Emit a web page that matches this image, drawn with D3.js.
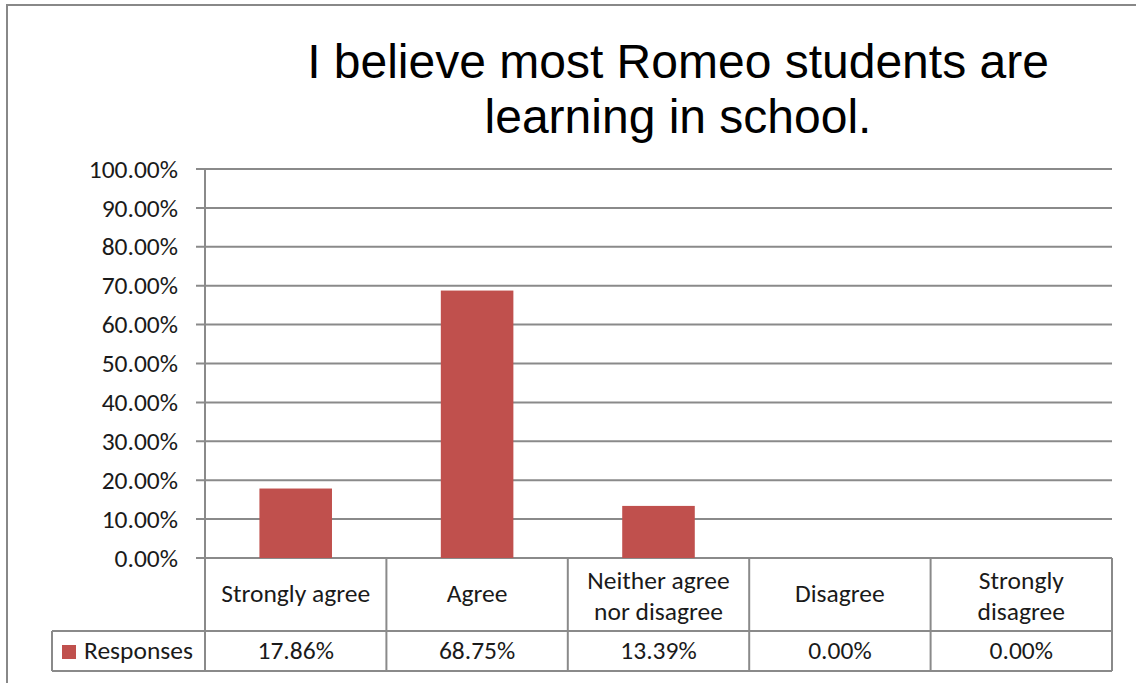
<!DOCTYPE html>
<html><head><meta charset="utf-8">
<script src="https://cdn.jsdelivr.net/npm/d3@7"></script>
<style>
html,body{margin:0;padding:0;background:#fff;}
svg{display:block;}
</style></head>
<body>
<svg id="chart" width="1136" height="683"></svg>
<script>
const titleLines = ["I believe most Romeo students are", "learning in school."];
const categories = [["Strongly agree"], ["Agree"], ["Neither agree", "nor disagree"], ["Disagree"], ["Strongly", "disagree"]];
const seriesName = "Responses";
const values = [17.86, 68.75, 13.39, 0.00, 0.00];
const yTicks = [0, 10, 20, 30, 40, 50, 60, 70, 80, 90, 100];

const svg = d3.select("#chart");
const gridColor = "#8a8a8a";
const barColor = "#C0504D";
const labelFont = "Carlito, 'Open Sans', sans-serif";
const labelSize = "25.5px";

// outer chart border
svg.append("rect").attr("x", 7).attr("y", 5).attr("width", 1140).attr("height", 700)
  .attr("fill", "none").attr("stroke", "#888").attr("stroke-width", 2);

const pLeft = 205, pRight = 1112, pTop = 169, pBottom = 558;
const x = d3.scaleBand().domain(d3.range(categories.length)).range([pLeft, pRight]).paddingInner(0.6).paddingOuter(0.3);
const xc = d3.scaleBand().domain(d3.range(categories.length)).range([pLeft, pRight]).padding(0);
const y = d3.scaleLinear().domain([0, 100]).range([pBottom, pTop]);

// title
svg.append("text").attr("x", 678).attr("y", 78).attr("text-anchor", "middle")
  .style("font-family", "'Liberation Sans', Arial, sans-serif").style("font-size", "48px").attr("fill", "#000")
  .selectAll("tspan").data(titleLines).join("tspan")
  .attr("x", 678).attr("dy", (d, i) => i === 0 ? 0 : 55).text(d => d);

// gridlines
const grid = svg.append("g");
grid.selectAll("line").data(yTicks).join("line")
  .attr("x1", pLeft - 9).attr("x2", pRight).attr("y1", d => y(d)).attr("y2", d => y(d))
  .attr("stroke", gridColor).attr("stroke-width", 2);

// y axis with labels
const yAxis = d3.axisLeft(y).tickValues(yTicks).tickSize(0).tickPadding(27)
  .tickFormat(d => d.toFixed(2) + "%");
const ga = svg.append("g").attr("transform", `translate(${pLeft},0)`).call(yAxis);
ga.select(".domain").remove();
ga.selectAll("text").style("font-family", labelFont).style("font-size", labelSize).attr("fill", "#1a1a1a");

// bars
svg.append("g").selectAll("rect").data(values).join("rect")
  .attr("x", (d, i) => x(i)).attr("width", x.bandwidth())
  .attr("y", d => y(d)).attr("height", d => y(0) - y(d))
  .attr("fill", barColor);

// vertical axis line
svg.append("line").attr("x1", pLeft).attr("x2", pLeft).attr("y1", pTop).attr("y2", 672)
  .attr("stroke", gridColor).attr("stroke-width", 2);

// data table
const rowMid = 631, tBottom = 671;
const tbl = svg.append("g");
tbl.selectAll("line.v").data(d3.range(1, categories.length + 1)).join("line").attr("class", "v")
  .attr("x1", i => xc(i - 1) + xc.bandwidth()).attr("x2", i => xc(i - 1) + xc.bandwidth())
  .attr("y1", pBottom).attr("y2", tBottom).attr("stroke", gridColor).attr("stroke-width", 2);
tbl.append("line").attr("x1", 52).attr("x2", pRight).attr("y1", rowMid).attr("y2", rowMid)
  .attr("stroke", gridColor).attr("stroke-width", 2);
tbl.append("line").attr("x1", 52).attr("x2", pRight).attr("y1", tBottom).attr("y2", tBottom)
  .attr("stroke", gridColor).attr("stroke-width", 2);
tbl.append("line").attr("x1", 52).attr("x2", 52).attr("y1", rowMid).attr("y2", tBottom)
  .attr("stroke", gridColor).attr("stroke-width", 2);

// category labels
const catG = tbl.append("g");
categories.forEach((lines, i) => {
  const cx = xc(i) + xc.bandwidth() / 2;
  const n = lines.length;
  const t = catG.append("text").attr("text-anchor", "middle")
    .style("font-family", labelFont).style("font-size", labelSize).attr("fill", "#1a1a1a");
  lines.forEach((l, j) => {
    const base = n === 1 ? 602 : 604;
    t.append("tspan").attr("x", cx).attr("y", base + (j - (n - 1) / 2) * 31).text(l);
  });
});

// values row
tbl.selectAll("text.val").data(values).join("text").attr("class", "val")
  .attr("x", (d, i) => xc(i) + xc.bandwidth() / 2).attr("y", 659).attr("text-anchor", "middle")
  .style("font-family", labelFont).style("font-size", labelSize).attr("fill", "#1a1a1a")
  .text(d => d.toFixed(2) + "%");

// legend key
tbl.append("rect").attr("x", 62).attr("y", 645).attr("width", 14).attr("height", 14).attr("fill", barColor);
tbl.append("text").attr("x", 84).attr("y", 659)
  .style("font-family", labelFont).style("font-size", labelSize).attr("fill", "#1a1a1a").text(seriesName);
</script>
</body></html>
